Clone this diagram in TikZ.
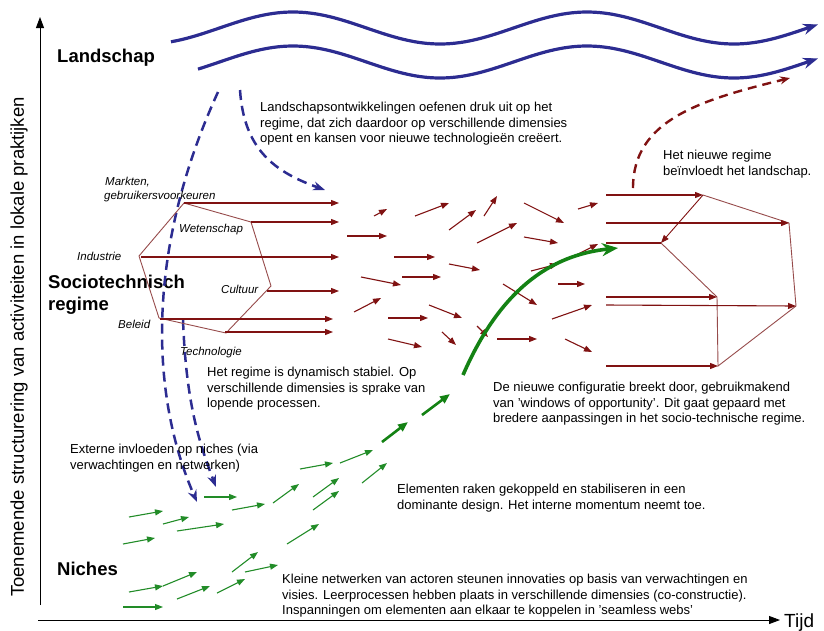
\documentclass[tikz,border=0pt]{standalone}
\usepackage{fontspec}
\setmainfont{Liberation Sans}
\usetikzlibrary{arrows.meta}
\definecolor{navyc}{RGB}{44,44,145}
\definecolor{redc}{RGB}{128,18,18}
\definecolor{hexc}{RGB}{150,75,75}
\definecolor{grnc}{RGB}{34,140,40}
\definecolor{grnd}{RGB}{20,130,20}
\begin{document}
\begin{tikzpicture}[x=1pt,y=-1pt,
  axis/.style={draw=black, line width=0.9pt, -{Triangle[length=11pt,width=8pt]}},
  wave/.style={draw=navyc, line width=3.2pt, -{Stealth[length=15pt,width=11pt]}},
  bluedash/.style={draw=navyc, line width=2.5pt, dash pattern=on 10pt off 6pt, -{Stealth[length=12pt,width=9pt]}},
  reddash/.style={draw=redc, line width=2.4pt, dash pattern=on 9pt off 6pt, -{Stealth[length=10pt,width=8pt]}},
  redarr/.style={draw=redc, line width=1.1pt, -{Triangle[length=8pt,width=6pt]}},
  hexline/.style={draw=hexc, line width=0.9pt},
  grnarr/.style={draw=grnc, line width=1.1pt, -{Triangle[length=8pt,width=6pt]}},
  grnbig/.style={draw=grnd, line width=2.6pt, -{Triangle[length=10pt,width=8pt]}},
  grncurve/.style={draw=grnd, line width=3.6pt, -{Stealth[length=16pt,width=13pt]}},
  txt/.style={font=\fontsize{13}{15.5}\selectfont, align=left, inner sep=0pt, anchor=north west},
  lab/.style={font=\fontsize{11.5}{14}\selectfont\itshape, inner sep=0pt, anchor=base west},
  level/.style={font=\fontsize{18.5}{22}\selectfont\bfseries, inner sep=0pt, anchor=base west}
]
\useasboundingbox (0,0) rectangle (824,630);

% axes
\coordinate (ybot) at (40,605);
\coordinate (ytop) at (40,17);
\coordinate (xstart) at (38,620);
\coordinate (xend) at (780,620);
\draw[axis] (ybot) -- (ytop);
\draw[axis] (xstart) -- (xend);
\node[rotate=90, font=\fontsize{18.5}{20}\selectfont, inner sep=0pt] (ylab) at (19,347) {Toenemende structurering van activiteiten in lokale praktijken};
\node[font=\fontsize{19}{20}\selectfont, inner sep=0pt, anchor=base west] (tijd) at (784,627) {Tijd};

% level labels
\node[level] (landschap) at (57,62) {Landschap};
\node[level] (socio) at (48,288) {Sociotechnisch};
\node[level] (regime) at (48,310) {regime};
\node[level] (niches) at (57,575) {Niches};

% landscape waves
\draw[wave] plot[domain=171:818, samples=140] (\x,{28-16*cos(1.22449*(\x-293))});
\draw[wave] plot[domain=198:818, samples=140] (\x,{62-16*cos(1.22449*(\x-293))});

% blue dashed influences
\coordinate (b1s) at (218,92);
\coordinate (b1e) at (197,502);
\coordinate (b2s) at (240,90);
\coordinate (b2e) at (325,190);
\coordinate (b3s) at (183,320);
\coordinate (b3e) at (216,487);
\draw[bluedash] (b1s) .. controls (148,245) and (148,390) .. (b1e);
\draw[bluedash] (b2s) .. controls (244,150) and (275,172) .. (b2e);
\draw[bluedash] (b3s) .. controls (186,400) and (198,440) .. (b3e);

% left hexagon (regime)
\coordinate (h1) at (184,203);
\coordinate (h2) at (251,222);
\coordinate (h3) at (271,286);
\coordinate (h4) at (226,333);
\coordinate (h5) at (159,318);
\coordinate (h6) at (139,256);
\draw[hexline] (h1) -- (h2) -- (h3) -- (h4) -- (h5) -- (h6) -- cycle;
\foreach \xa/\ya/\xb/\yb in {184/203/339/203, 251/222/339/222, 141/257/339/257, 267/291/339/291, 160/319/333/319, 225/332/333/332}
  \draw[redarr] (\xa,\ya) -- (\xb,\yb);

% dimension labels
\node[lab] (markt) at (105,185) {Markten,};
\node[lab] (gebr) at (104,199) {gebruikersvoorkeuren};
\node[lab] (weten) at (179,232) {Wetenschap};
\node[lab] (indus) at (77,260) {Industrie};
\node[lab] (cult) at (221,293) {Cultuur};
\node[lab] (beleid) at (118,328) {Beleid};
\node[lab] (techn) at (180,355) {Technologie};

% scattered regime arrows
\foreach \xa/\ya/\xb/\yb in {374/216/387/209, 415/216/449/203, 449/230/476/210, 484/216/497/196, 524/203/564/223, 578/209/598/203,
  347/236/387/236, 477/243/517/223, 524/237/558/243, 572/257/598/244, 394/257/435/257, 449/264/480/270, 531/271/558/264,
  361/277/401/285, 402/277/441/277, 503/284/537/305, 558/284/585/284, 354/312/381/298, 429/305/462/318, 388/318/428/318,
  552/319/592/305, 388/339/422/347, 442/332/456/345, 477/326/488/337, 497/339/537/339, 565/339/592/352}
  \draw[redarr] (\xa,\ya) -- (\xb,\yb);

% right hexagon (new regime)
\coordinate (rA) at (703,195);
\coordinate (rB) at (789,223);
\coordinate (rC) at (796,306);
\coordinate (rD) at (718,366);
\coordinate (rE) at (717,297);
\coordinate (rF) at (661,243);
\coordinate (s1) at (606,195);
\coordinate (s2) at (606,223);
\coordinate (s3) at (606,243);
\coordinate (s4) at (606,297);
\coordinate (s5) at (606,305);
\coordinate (s6) at (606,366);
\draw[hexline] (rA) -- (rB) -- (rC) -- (rD) -- (rE) -- (rF);
\draw[hexline, draw=redc, -{Triangle[length=8pt,width=6pt]}] (rA) -- (rF);
\draw[redarr] (s1) -- (rA);
\draw[redarr] (s2) -- (rB);
\draw[redc, line width=1.1pt] (s3) -- (rF);
\draw[redarr] (s4) -- (rE);
\draw[redarr] (s5) -- (rC);
\draw[redarr] (s6) -- (rD);

% red dashed feedback to landscape
\coordinate (fbs) at (633,188);
\coordinate (fbe) at (790,78);
\draw[reddash] (fbs) .. controls (633,120) and (700,100) .. (fbe);

% niche arrows
\foreach \xa/\ya/\xb/\yb in {300/469/333/463, 340/463/373/450, 313/497/339/478, 313/510/339/491, 362/483/387/463, 273/503/299/484,
  204/497/237/497, 232/510/265/504, 129/517/163/511, 163/524/189/517, 177/531/224/524, 123/544/155/538, 287/544/319/524,
  232/572/258/552, 245/572/278/565, 129/592/163/586, 163/586/197/572, 177/599/210/586, 217/593/245/579, 123/607/163/607}
  \draw[grnarr] (\xa,\ya) -- (\xb,\yb);
\draw[grnbig] (382,442) -- (408,422);
\draw[grnbig] (422,415) -- (450,394);

% breakthrough curve
\coordinate (gs) at (463,375);
\coordinate (ge) at (618,248);
\draw[grncurve] (gs) .. controls (500,290) and (550,255) .. (ge);

% texts
\node[txt] (t1) at (260,102.2) {Landschapsontwikkelingen oefenen druk uit op het\\regime, dat zich daardoor op verschillende dimensies\\opent en kansen voor nieuwe technologieën creëert.};
\node[txt] (t2) at (663,150.2) {Het nieuwe regime\\beïnvloedt het landschap.};
\node[txt] (t3) at (207,367.2) {Het regime is dynamisch stabiel. Op\\verschillende dimensies is sprake van\\lopende processen.};
\node[txt] (t4) at (493,382.2) {De nieuwe configuratie breekt door, gebruikmakend\\van 'windows of opportunity'. Dit gaat gepaard met\\bredere aanpassingen in het socio-technische regime.};
\node[txt] (t5) at (70,444.2) {Externe invloeden op niches (via\\verwachtingen en netwerken)};
\node[txt] (t6) at (397,484.2) {Elementen raken gekoppeld en stabiliseren in een\\dominante design. Het interne momentum neemt toe.};
\node[txt] (t7) at (282,574.2) {Kleine netwerken van actoren steunen innovaties op basis van verwachtingen en\\visies. Leerprocessen hebben plaats in verschillende dimensies (co-constructie).\\Inspanningen om elementen aan elkaar te koppelen in 'seamless webs'};
\end{tikzpicture}
\end{document}
